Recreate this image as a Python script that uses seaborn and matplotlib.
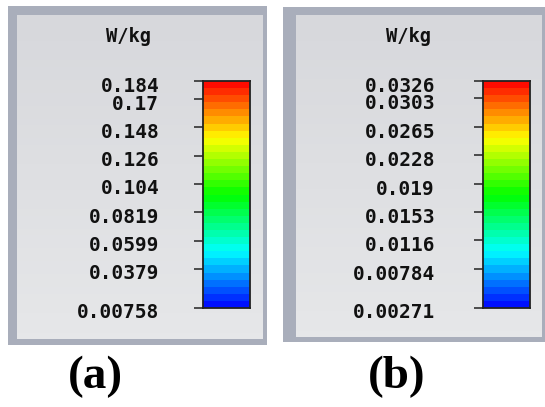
import numpy as np
import pandas as pd
import seaborn as sns
import matplotlib.pyplot as plt
from matplotlib.colors import LinearSegmentedColormap, ListedColormap
from matplotlib.patches import Rectangle
from matplotlib import transforms

# legend values (W/kg)
ticks_a = [0.184, 0.17, 0.148, 0.126, 0.104, 0.0819, 0.0599, 0.0379, 0.00758]
labels_a = ["0.184", "0.17", "0.148", "0.126", "0.104", "0.0819", "0.0599", "0.0379", "0.00758"]
ticks_b = [0.0326, 0.0303, 0.0265, 0.0228, 0.019, 0.0153, 0.0116, 0.00784, 0.00271]
labels_b = ["0.0326", "0.0303", "0.0265", "0.0228", "0.019", "0.0153", "0.0116", "0.00784", "0.00271"]
unit = "W/kg"
panel_names = ["(a)", "(b)"]

n_bands = 32
ramp = LinearSegmentedColormap.from_list(
    "sar", [(0, "#0000ff"), (0.25, "#00ffff"), (0.5, "#00ff00"), (0.75, "#ffff00"), (1, "#ff0000")])
band_cmap = ListedColormap([ramp((i + 0.5) / n_bands) for i in range(n_bands)])

W, H = 545, 407
fig = plt.figure(figsize=(W / 100, H / 100), dpi=100)
bg = fig.add_axes([0, 0, 1, 1])
bg.axis('off')

def px_axes(x0, y0, x1, y1):
    return fig.add_axes([x0 / W, 1 - y1 / H, (x1 - x0) / W, (y1 - y0) / H])

panel_grad = LinearSegmentedColormap.from_list("pg", ["#d7d8dc", "#e6e7e9"])
grad = np.linspace(0, 1, 50)[:, None]

mono = dict(fontfamily='DejaVu Sans Mono', fontweight='bold', color='#111111')

panels = [
    dict(outer=(8, 6, 267, 345), inner=(17, 15, 263, 339), bar=(203, 81, 250, 308),
         unit_x=128, name_x=95, ticks=ticks_a, labels=labels_a, pad=25),
    dict(outer=(283, 7, 545, 342), inner=(296, 15, 542, 337), bar=(483, 81, 530, 308),
         unit_x=408, name_x=397, ticks=ticks_b, labels=labels_b, pad=28),
]

for p, name in zip(panels, panel_names):
    x0, y0, x1, y1 = p['outer']
    bg.add_patch(Rectangle((x0, y0), x1 - x0, y1 - y0, fc='#a9aebb', ec='none', zorder=0))
    x0, y0, x1, y1 = p['inner']
    bg.imshow(grad, cmap=panel_grad, extent=(x0, x1, y1, y0), aspect='auto', zorder=1)
    bg.text(p['unit_x'], 36, unit, ha='center', va='center', fontsize=13.5, **mono)
    bg.text(p['name_x'], 377, name, ha='center', va='center', fontsize=34,
            fontfamily='Liberation Serif', fontweight='bold', color='black')

    ticks = p['ticks']
    vmax, vmin = ticks[0], ticks[-1]
    cax = px_axes(*p['bar'])
    bands = pd.DataFrame(np.arange(n_bands)[::-1][:, None])
    sns.heatmap(bands, ax=cax, cmap=band_cmap, vmin=0, vmax=n_bands - 1, cbar=False,
                xticklabels=False, yticklabels=False)
    pos = [(vmax - v) / (vmax - vmin) * n_bands for v in ticks]
    cax.set_yticks(pos)
    cax.set_yticklabels(p['labels'], fontsize=14, **mono)
    cax.tick_params(axis='y', left=True, length=6.5, width=1.1, color='#222222', pad=p['pad'])
    cax.set_xticks([])
    for s in cax.spines.values():
        s.set_visible(True)
        s.set_color('#222222')
        s.set_linewidth(1.3)
    shift = transforms.ScaledTranslation(0, -3 / 100, fig.dpi_scale_trans)
    for lbl in cax.get_yticklabels():
        lbl.set_transform(lbl.get_transform() + shift)

bg.set_xlim(0, W)
bg.set_ylim(H, 0)

plt.savefig('out.png', dpi=100)
